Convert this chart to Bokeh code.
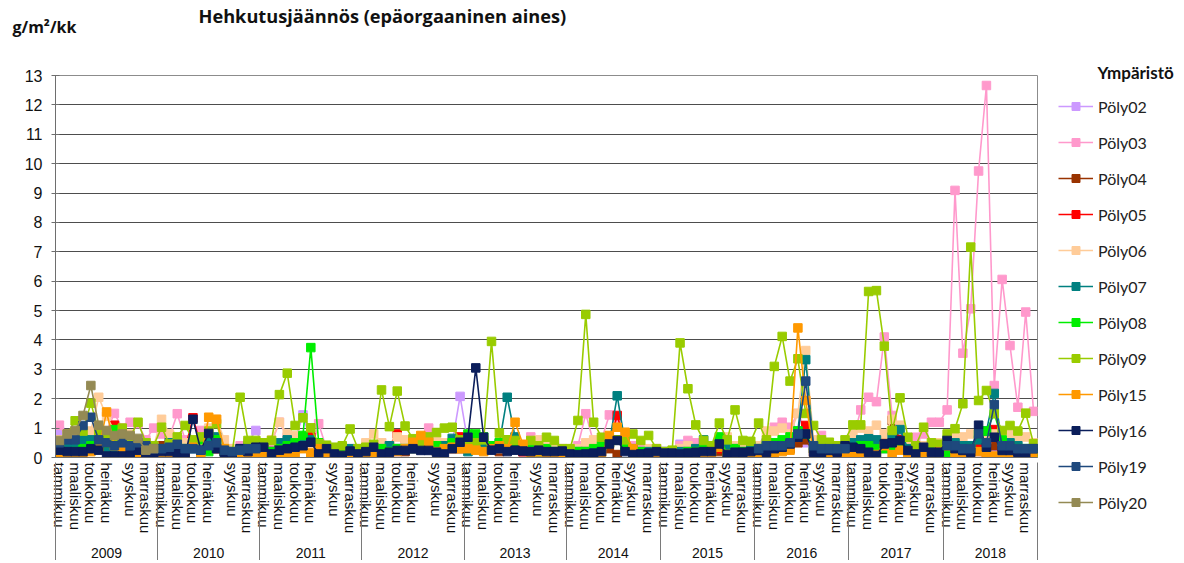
import numpy as np
from bokeh.plotting import figure
from bokeh.models import (FixedTicker, LinearAxis, Legend, LegendItem, Label,
                          Range1d, ColumnDataSource)
from bokeh.embed import file_html
from bokeh.resources import INLINE

# ---------------- data ----------------
years = ["2009", "2010", "2011", "2012", "2013", "2014", "2015", "2016", "2017", "2018"]
periods_13 = ["tammikuu", "helmikuu", "maaliskuu", "huhtikuu", "toukokuu", "kesäkuu",
              "heinäkuu", "elokuu", "elokuu", "syyskuu", "lokakuu", "marraskuu", "joulukuu"]
months_12 = ["tammikuu", "helmikuu", "maaliskuu", "huhtikuu", "toukokuu", "kesäkuu",
             "heinäkuu", "elokuu", "syyskuu", "lokakuu", "marraskuu", "joulukuu"]
periods_per_year = [13, 13, 13, 13, 13, 12, 12, 12, 12, 12]
shown_months = ["tammikuu", "maaliskuu", "toukokuu", "heinäkuu", "syyskuu", "marraskuu"]

series_names = ["Pöly02", "Pöly03", "Pöly04", "Pöly05", "Pöly06", "Pöly07",
                "Pöly08", "Pöly09", "Pöly15", "Pöly16", "Pöly19", "Pöly20"]
series_colors = ["#CC99FF", "#FF99CC", "#993300", "#FF0000", "#FFCC99", "#008080",
                 "#00EE00", "#99CC00", "#FF9900", "#0B1E5B", "#1F497D", "#948A54"]

poly02 = [0.9, 0.6, 0.5, 0.5, 0.6, 0.7, 0.6, 0.5, 0.5, 0.4, 0.4, 0.3, 0.3,
          0.3, 0.3, 0.3, 0.3, 0.3, 0.3, 0.3, 0.3, 0.2, 0.2, 0.3, 0.5, 0.92,
          0.4, 0.3, 0.4, 0.5, 0.6, 1.45, 0.5, 0.3, 0.3, 0.2, 0.2, 0.2, 0.2,
          0.2, 0.2, 0.2, 0.2, 0.2, 0.3, 0.3, 0.3, 0.3, 0.3, 0.4, 0.5, 2.08,
          0.5, 0.3, 0.3, 0.3, 0.3, 0.3, 0.3, 0.2, 0.2, 0.2, 0.2, 0.2, 0.2,
          0.1, 0.1, 0.3, 0.2, 0.3, 0.5, 1.3, 0.4, 0.2, 0.1, 0.1, 0.1,
          0.1, 0.1, 0.45, 0.3, 0.2, 0.2, 0.2, 0.3, 0.2, 0.2, 0.1, 0.1,
          0.2, 0.3, 0.3, 0.3, 0.4, 0.6, 0.5, 0.2, 0.1, 0.1, 0.2, 0.2,
          0.2, 0.2, 0.3, 0.3, 0.3, 0.3, 0.3, 0.2, 0.1, 0.1, 0.2, 0.2,
          0.2, 0.2, 0.2, 0.2, 0.2, 0.3, 0.1, 0.2, 0.2, 0.2, 0.2, 0.2]
poly03 = [1.1, 0.6, 0.5, 0.6, 0.8, 0.9, 0.9, 1.5, 1.0, 1.2, 1.15, 0.6, 1.0,
          0.8, 0.7, 1.49, 0.6, 0.5, 0.92, 0.4, 0.3, 0.2, 0.3, 0.4, 0.4, 0.3,
          0.4, 0.5, 1.2, 0.7, 0.5, 0.4, 0.2, 1.15, 0.3, 0.3, 0.2, 0.3, 0.3,
          0.4, 0.3, 0.5, 0.4, 0.3, 0.4, 0.5, 0.6, 1.0, 0.5, 0.4, 0.5, 0.6,
          0.5, 0.3, 0.4, 0.3, 0.5, 0.4, 0.6, 0.4, 0.7, 0.5, 0.4, 0.5, 0.3,
          0.2, 0.4, 1.49, 0.5, 0.6, 1.45, 1.3, 0.6, 0.4, 0.3, 0.2, 0.3,
          0.2, 0.2, 0.4, 0.58, 0.5, 0.3, 0.3, 0.5, 0.4, 0.3, 0.3, 0.3,
          0.3, 0.6, 1.03, 1.2, 1.03, 1.5, 0.9, 0.5, 0.75, 0.4, 0.3, 0.3,
          0.6, 1.62, 2.05, 1.9, 4.1, 1.43, 0.9, 0.5, 0.69, 0.8, 1.2, 1.2,
          1.62, 9.09, 3.55, 5.06, 9.75, 12.66, 2.45, 6.06, 3.81, 1.71, 4.95, 1.57]
poly04 = [0.2, 0.3, 0.3, 0.3, 0.4, 0.4, 0.4, 0.5, 0.4, 0.3, 0.3, 0.4, 0.3,
          0.4, 0.75, 0.3, 0.3, 0.4, 0.3, 0.4, 0.3, 0.2, 0.2, 0.2, 0.2, 0.2,
          0.2, 0.2, 0.3, 0.3, 0.3, 0.4, 0.4, 0.2, 0.2, 0.2, 0.2, 0.2, 0.2,
          0.2, 0.2, 0.2, 0.3, 0.3, 0.2, 0.3, 0.3, 0.3, 0.4, 0.3, 0.3, 0.3,
          0.3, 0.3, 0.3, 0.3, 0.2, 0.3, 0.3, 0.2, 0.2, 0.2, 0.2, 0.2, 0.2,
          0.1, 0.1, 0.1, 0.1, 0.2, 0.3, 0.1, 0.3, 0.2, 0.1, 0.1, 0.1,
          0.1, 0.1, 0.1, 0.1, 0.1, 0.1, 0.2, 0.2, 0.2, 0.1, 0.1, 0.1,
          0.2, 0.2, 0.3, 0.3, 0.3, 0.5, 0.6, 0.2, 0.1, 0.1, 0.2, 0.2,
          0.3, 0.4, 0.4, 0.4, 0.5, 1.26, 0.6, 0.2, 0.1, 0.2, 0.2, 0.2,
          0.2, 0.2, 0.2, 0.2, 0.3, 0.3, 0.4, 0.3, 0.3, 0.2, 0.2, 0.2]
poly05 = [0.2, 0.3, 0.3, 0.4, 0.5, 0.6, 0.8, 1.1, 0.6, 0.5, 0.4, 0.5, 0.3,
          0.2, 0.4, 0.5, 0.3, 1.35, 0.4, 0.5, 0.4, 0.2, 0.2, 0.2, 0.3, 0.2,
          0.2, 0.2, 0.3, 0.3, 0.4, 0.6, 0.7, 0.3, 0.2, 0.2, 0.2, 0.2, 0.2,
          0.2, 0.2, 0.3, 0.4, 0.8, 0.3, 0.4, 0.5, 0.3, 0.3, 0.3, 0.5, 0.7,
          0.7, 0.5, 0.4, 0.3, 0.4, 0.5, 0.3, 0.2, 0.2, 0.2, 0.2, 0.2, 0.2,
          0.1, 0.1, 0.2, 0.2, 0.3, 0.5, 1.43, 0.5, 0.2, 0.1, 0.1, 0.1,
          0.1, 0.1, 0.1, 0.1, 0.1, 0.2, 0.2, 0.3, 0.2, 0.2, 0.1, 0.2,
          0.2, 0.3, 0.3, 0.3, 0.5, 0.8, 1.09, 0.3, 0.1, 0.2, 0.2, 0.2,
          0.3, 0.3, 0.3, 0.3, 0.4, 0.8, 0.6, 0.2, 0.1, 0.2, 0.2, 0.2,
          0.2, 0.2, 0.2, 0.2, 0.4, 0.03, 0.95, 0.3, 0.3, 0.2, 0.2, 0.2]
poly06 = [0.6, 0.5, 0.7, 0.6, 0.9, 2.05, 1.4, 0.9, 0.7, 0.8, 0.6, 0.5, 0.4,
          1.3, 0.8, 0.6, 0.5, 0.4, 0.5, 1.0, 1.3, 0.6, 0.3, 0.2, 0.3, 0.4,
          0.5, 0.6, 1.2, 0.8, 0.75, 0.5, 0.4, 0.4, 0.3, 0.3, 0.3, 0.2, 0.3,
          0.5, 0.8, 0.5, 0.4, 0.7, 0.6, 0.5, 0.3, 0.5, 0.6, 0.5, 0.5, 0.5,
          0.4, 0.5, 0.5, 0.4, 0.3, 0.5, 0.6, 0.3, 0.4, 0.6, 0.5, 0.4, 0.3,
          0.3, 0.3, 0.5, 0.6, 0.4, 0.5, 0.6, 0.5, 0.3, 0.2, 0.3, 0.3,
          0.2, 0.2, 0.3, 0.4, 0.3, 0.3, 0.4, 0.5, 0.7, 0.4, 0.3, 0.3,
          0.4, 0.9, 0.9, 1.0, 0.8, 1.5, 3.64, 0.6, 0.4, 0.3, 0.3, 0.3,
          0.8, 1.0, 0.9, 1.1, 0.8, 1.3, 1.1, 0.5, 0.3, 0.4, 0.3, 0.5,
          0.6, 0.7, 0.7, 0.8, 0.7, 0.6, 0.8, 0.9, 0.8, 0.7, 0.7, 0.5]
poly07 = [0.4, 0.5, 0.5, 0.6, 0.6, 0.5, 0.3, 0.2, 0.1, 0.3, 0.4, 0.3, 0.2,
          0.3, 0.5, 0.4, 0.3, 0.3, 0.2, 0.5, 0.7, 0.2, 0.2, 0.3, 0.4, 0.3,
          0.3, 0.2, 0.5, 0.6, 0.4, 0.7, 0.6, 0.3, 0.3, 0.2, 0.2, 0.3, 0.2,
          0.3, 0.3, 0.3, 0.4, 0.3, 0.3, 0.3, 0.3, 0.3, 0.3, 0.4, 0.65, 0.5,
          0.2, 0.3, 0.3, 0.4, 0.5, 2.05, 0.7, 0.4, 0.3, 0.3, 0.2, 0.2, 0.2,
          0.2, 0.2, 0.2, 0.2, 0.3, 0.5, 2.1, 0.5, 0.3, 0.2, 0.2, 0.2,
          0.2, 0.1, 0.2, 0.2, 0.3, 0.6, 0.3, 0.5, 0.3, 0.3, 0.2, 0.4,
          0.3, 0.5, 0.4, 0.3, 0.6, 0.9, 3.33, 0.3, 0.2, 0.2, 0.3, 0.3,
          0.5, 0.6, 0.64, 0.6, 0.4, 0.7, 0.95, 0.3, 0.2, 0.3, 0.2, 0.3,
          0.6, 0.5, 0.4, 0.4, 0.6, 0.9, 2.18, 0.5, 0.5, 0.4, 0.3, 0.3]
poly08 = [0.05, 0.1, 0.2, 0.3, 0.4, 0.3, 0.5, 0.95, 0.7, 0.4, 0.3, 0.2, 0.1,
          0.2, 0.3, 0.5, 0.3, 0.4, 0.6, 0.2, 0.6, 0.2, 0.1, 0.2, 0.3, 0.3,
          0.3, 0.2, 0.3, 0.4, 0.5, 0.75, 3.74, 0.5, 0.3, 0.2, 0.2, 0.2, 0.1,
          0.1, 0.2, 0.3, 0.2, 0.3, 0.3, 0.4, 0.3, 0.3, 0.4, 0.3, 0.5, 0.6,
          0.8, 0.8, 0.7, 0.4, 0.5, 0.6, 0.5, 0.3, 0.3, 0.2, 0.3, 0.2, 0.2,
          0.1, 0.2, 0.2, 0.3, 0.4, 0.5, 0.6, 0.4, 0.2, 0.2, 0.1, 0.2,
          0.1, 0.1, 0.1, 0.2, 0.2, 0.3, 0.2, 0.7, 0.1, 0.3, 0.2, 0.2,
          0.3, 0.4, 0.5, 0.6, 0.7, 0.9, 0.8, 0.3, 0.1, 0.2, 0.2, 0.3,
          0.3, 0.4, 0.4, 0.3, 0.3, 0.4, 0.5, 0.2, 0.1, 0.2, 0.2, 0.2,
          0.1, 0.2, 0.2, 0.3, 0.8, 0.9, 1.5, 0.6, 0.4, 0.3, 0.3, 0.1]
poly09 = [0.5, 0.8, 1.25, 0.9, 1.85, 0.9, 0.8, 0.7, 1.0, 0.7, 1.2, 0.5, 0.4,
          1.03, 0.46, 0.7, 1.09, 0.6, 0.7, 0.9, 1.15, 0.3, 0.2, 2.05, 0.58, 0.58,
          0.5, 0.58, 2.14, 2.87, 1.09, 1.35, 1.01, 0.47, 0.42, 0.35, 0.4, 0.97, 0.3,
          0.35, 0.45, 2.3, 1.05, 2.26, 1.07, 0.64, 0.5, 0.7, 0.85, 1.0, 1.03, 0.6,
          0.4, 0.5, 0.6, 3.95, 0.83, 0.6, 0.58, 0.3, 0.58, 0.4, 0.69, 0.58, 0.3,
          0.3, 1.26, 4.87, 1.2, 0.69, 0.5, 0.6, 0.6, 0.8, 0.58, 0.75, 0.3,
          0.2, 0.25, 3.9, 2.34, 1.11, 0.58, 0.4, 1.17, 0.6, 1.62, 0.58, 0.55,
          1.17, 0.6, 3.1, 4.12, 2.6, 3.36, 1.5, 1.09, 0.6, 0.52, 0.4, 0.6,
          1.11, 1.11, 5.65, 5.68, 3.79, 0.92, 2.03, 0.69, 0.4, 1.03, 0.5, 0.45,
          0.8, 0.98, 1.83, 7.16, 1.94, 2.28, 1.49, 0.92, 1.09, 0.9, 1.51, 0.47]
poly15 = [0.0, 0.05, 0.05, 0.05, 0.2, 0.3, 1.55, 0.4, 0.2, 0.35, 0.1, 0.05, 0.05,
          0.0, 0.05, 0.1, 0.1, 0.35, 0.0, 1.37, 1.3, 0.3, 0.05, 0.0, 0.1, 0.05,
          0.1, 0.05, 0.0, 0.05, 0.1, 0.3, 0.15, 0.3, 0.1, 0.05, 0.05, 0.1, 0.05,
          0.1, 0.05, 0.1, 0.15, 0.2, 0.3, 0.52, 0.75, 0.52, 0.2, 0.3, 0.35, 0.3,
          0.3, 0.25, 0.2, 0.3, 0.4, 0.3, 1.2, 0.45, 0.15, 0.2, 0.1, 0.1, 0.1,
          0.05, 0.05, 0.05, 0.05, 0.1, 0.75, 1.03, 0.86, 0.3, 0.05, 0.05, 0.1,
          0.05, 0.05, 0.05, 0.05, 0.05, 0.1, 0.1, 0.35, 0.1, 0.1, 0.05, 0.1,
          0.05, 0.1, 0.1, 0.2, 0.25, 4.41, 1.94, 0.15, 0.05, 0.1, 0.05, 0.1,
          0.05, 0.05, 0.05, 0.1, 0.4, 0.1, 0.25, 0.05, 0.05, 0.1, 0.05, 0.2,
          0.4, 0.15, 0.1, 0.1, 0.2, 0.05, 0.05, 0.05, 0.1, 0.05, 0.05, 0.05]
poly16 = [0.25, 0.2, 0.2, 0.2, 0.3, 0.25, 0.05, 0.05, 0.05, 0.1, 0.25, 0.1, 0.15,
          0.2, 0.2, 0.15, 0.05, 1.3, 0.25, 0.82, 0.3, 0.05, 0.05, 0.3, 0.2, 0.35,
          0.35, 0.12, 0.25, 0.3, 0.35, 0.4, 0.52, 0.12, 0.3, 0.12, 0.07, 0.22, 0.12,
          0.2, 0.35, 0.12, 0.18, 0.24, 0.24, 0.3, 0.24, 0.24, 0.18, 0.12, 0.3, 0.52,
          0.69, 3.05, 0.69, 0.25, 0.3, 0.2, 0.25, 0.22, 0.2, 0.25, 0.2, 0.2, 0.22,
          0.12, 0.1, 0.12, 0.15, 0.2, 0.46, 0.58, 0.2, 0.1, 0.12, 0.15, 0.2,
          0.15, 0.15, 0.12, 0.15, 0.18, 0.2, 0.2, 0.46, 0.1, 0.18, 0.18, 0.2,
          0.24, 0.18, 0.3, 0.35, 0.46, 0.69, 0.8, 0.18, 0.07, 0.24, 0.18, 0.4,
          0.35, 0.3, 0.18, 0.07, 0.46, 0.5, 0.58, 0.24, 0.12, 0.35, 0.18, 0.18,
          0.58, 0.3, 0.24, 0.18, 1.1, 0.35, 0.69, 0.24, 0.24, 0.18, 0.12, 0.3]
poly19_2009_2010 = [0.5, 0.6, 0.6, 1.09, 1.37, 0.6, 0.5, 0.4, 0.5, 0.4, 0.5, 0.4, 0.3,
                    0.3, 0.35, 0.45, 0.3, 0.3, 0.25, 0.4, 0.5, 0.25, 0.2, 0.25, 0.3, 0.3]
poly19_2016 = [0.3, 0.4, 0.4, 0.4, 0.5, 0.8, 2.6, 0.4, 0.3, 0.3, 0.3, 0.3]
poly19_2018 = [0.4, 0.4, 0.3, 0.3, 0.8, 0.5, 1.8, 0.4, 0.4, 0.3, 0.3, 0.3]
poly20_2009 = [0.58, 0.8, 0.92, 1.43, 2.45, 1.1, 0.92, 0.75, 0.8, 0.75, 0.65, 0.25, 0.3]

# ---------------- derived structure ----------------
n_total = sum(periods_per_year)
year_start = {}
s = 0
for yr, n in zip(years, periods_per_year):
    year_start[yr] = s
    s += n


def sparse(pieces):
    """Series with values only in the given years (gaps elsewhere)."""
    out = [None] * n_total
    for yr, vals in pieces:
        st = year_start[yr]
        out[st:st + len(vals)] = vals
    return out


poly19 = sparse([("2009", poly19_2009_2010), ("2016", poly19_2016), ("2018", poly19_2018)])
poly20 = sparse([("2009", poly20_2009)])
series_values = [poly02, poly03, poly04, poly05, poly06, poly07,
                 poly08, poly09, poly15, poly16, poly19, poly20]

xs = []
month_ticks = []
month_overrides = {}
year_centers = []
year_overrides = {}
boundaries = []
idx = 0
for yr, n in zip(years, periods_per_year):
    names = periods_13 if n == 13 else months_12
    boundaries.append(2 * idx - 1)
    seen = set()
    for k, nm in enumerate(names):
        pos = 2 * (idx + k)
        xs.append(pos)
        if nm in shown_months and nm not in seen:
            seen.add(nm)
            month_ticks.append(pos)
            month_overrides[pos] = nm
    c = 2 * idx + (n - 1)
    year_centers.append(c)
    year_overrides[c] = yr
    idx += n
boundaries.append(2 * idx - 1)

# ---------------- figure ----------------
FW, FH = 982, 382
p = figure(frame_width=FW, frame_height=FH, output_backend="svg", toolbar_location=None,
           x_range=Range1d(-1, 2 * n_total - 1), y_range=Range1d(0, 13),
           min_border_left=55, min_border_right=147, min_border_top=75,
           min_border_bottom=10)
p.outline_line_color = "#8c8c8c"
p.background_fill_color = "white"

items = []
for name, color, vals in zip(series_names, series_colors, series_values):
    src = ColumnDataSource(dict(x=xs, y=np.array(vals, dtype=float)))
    lr = p.line("x", "y", source=src, line_color=color, line_width=1.6)
    sr = p.scatter("x", "y", source=src, marker="square", size=8.5,
                   fill_color=color, line_color=color)
    items.append(LegendItem(label=name, renderers=[lr, sr]))

# y axis
yt = FixedTicker(ticks=list(range(0, 14)))
p.yaxis.ticker = yt
p.ygrid.ticker = yt
p.ygrid.grid_line_color = "#4d4d4d"
p.ygrid.grid_line_width = 1
p.xgrid.grid_line_color = None
p.yaxis.axis_line_color = "#6e6e6e"
p.yaxis.major_tick_line_color = "#6e6e6e"
p.yaxis.major_tick_in = 4
p.yaxis.major_tick_out = 4
p.yaxis.minor_tick_line_color = None
p.yaxis.major_label_text_font = "Liberation Sans"
p.yaxis.major_label_text_font_size = "16px"
p.yaxis.major_label_text_color = "#111111"
p.yaxis.major_label_standoff = 9

# month axis
xa = p.xaxis[0]
xa.ticker = FixedTicker(ticks=month_ticks)
xa.major_label_overrides = month_overrides
xa.major_label_orientation = "vertical"
xa.major_tick_line_color = None
xa.minor_tick_line_color = None
xa.major_tick_in = 0
xa.major_tick_out = 0
xa.minor_tick_in = 0
xa.minor_tick_out = 0
xa.axis_line_color = "#6e6e6e"
xa.major_label_text_font = "Liberation Sans"
xa.major_label_text_font_size = "15px"
xa.major_label_text_color = "#111111"
xa.major_label_standoff = 5

# year axis; its minor ticks are the year separators reaching up to the frame
ya = LinearAxis(ticker=FixedTicker(ticks=year_centers, minor_ticks=boundaries),
                major_label_overrides=year_overrides)
ya.axis_line_color = None
ya.major_tick_line_color = None
ya.major_tick_in = 0
ya.major_tick_out = 0
ya.minor_tick_line_color = "#7a7a7a"
ya.minor_tick_in = 74
ya.minor_tick_out = 0
ya.major_label_text_font = "Liberation Sans"
ya.major_label_text_font_size = "14px"
ya.major_label_text_color = "#111111"
ya.major_label_standoff = 11
p.add_layout(ya, "below")

# bottom-most axis without labels: continues the separators down past the years
sep = LinearAxis(ticker=FixedTicker(ticks=[], minor_ticks=boundaries))
sep.axis_line_color = None
sep.major_tick_line_color = None
sep.major_label_text_font_size = "0px"
sep.major_tick_in = 0
sep.major_tick_out = 0
sep.minor_tick_line_color = "#7a7a7a"
sep.minor_tick_in = 40
sep.minor_tick_out = 0
sep.major_label_standoff = 0
p.add_layout(sep, "below")

# legend in the right panel
legend = Legend(items=items, location="top_left")
legend.glyph_width = 35
legend.glyph_height = 20
legend.label_height = 20
legend.spacing = 16
legend.padding = 0
legend.margin = 21
legend.label_standoff = 5
legend.label_text_font = "Lato"
legend.label_text_font_size = "16px"
legend.label_text_color = "#222222"
legend.border_line_color = None
legend.background_fill_alpha = 0
p.add_layout(legend, "right")

# texts above the frame (screen units relative to their own panel)
p.add_layout(Label(x=1042, y=3, x_units="screen", y_units="screen",
                   text="Ympäristö", text_font="Lato", text_font_style="bold",
                   text_font_size="17px", text_baseline="middle", text_color="#111111"),
             "above")
p.add_layout(Label(x=-43, y=28, x_units="screen", y_units="screen",
                   text="g/m²/kk", text_font="Open Sans", text_font_style="bold",
                   text_font_size="16px", text_baseline="middle", text_color="#111111"),
             "above")
p.add_layout(Label(x=143, y=17, x_units="screen", y_units="screen",
                   text="Hehkutusjäännös (epäorgaaninen aines)",
                   text_font="Open Sans", text_font_style="bold", text_font_size="18.2px",
                   text_baseline="middle", text_color="#111111"),
             "above")

open("out.html", "w").write(file_html(p, INLINE))
